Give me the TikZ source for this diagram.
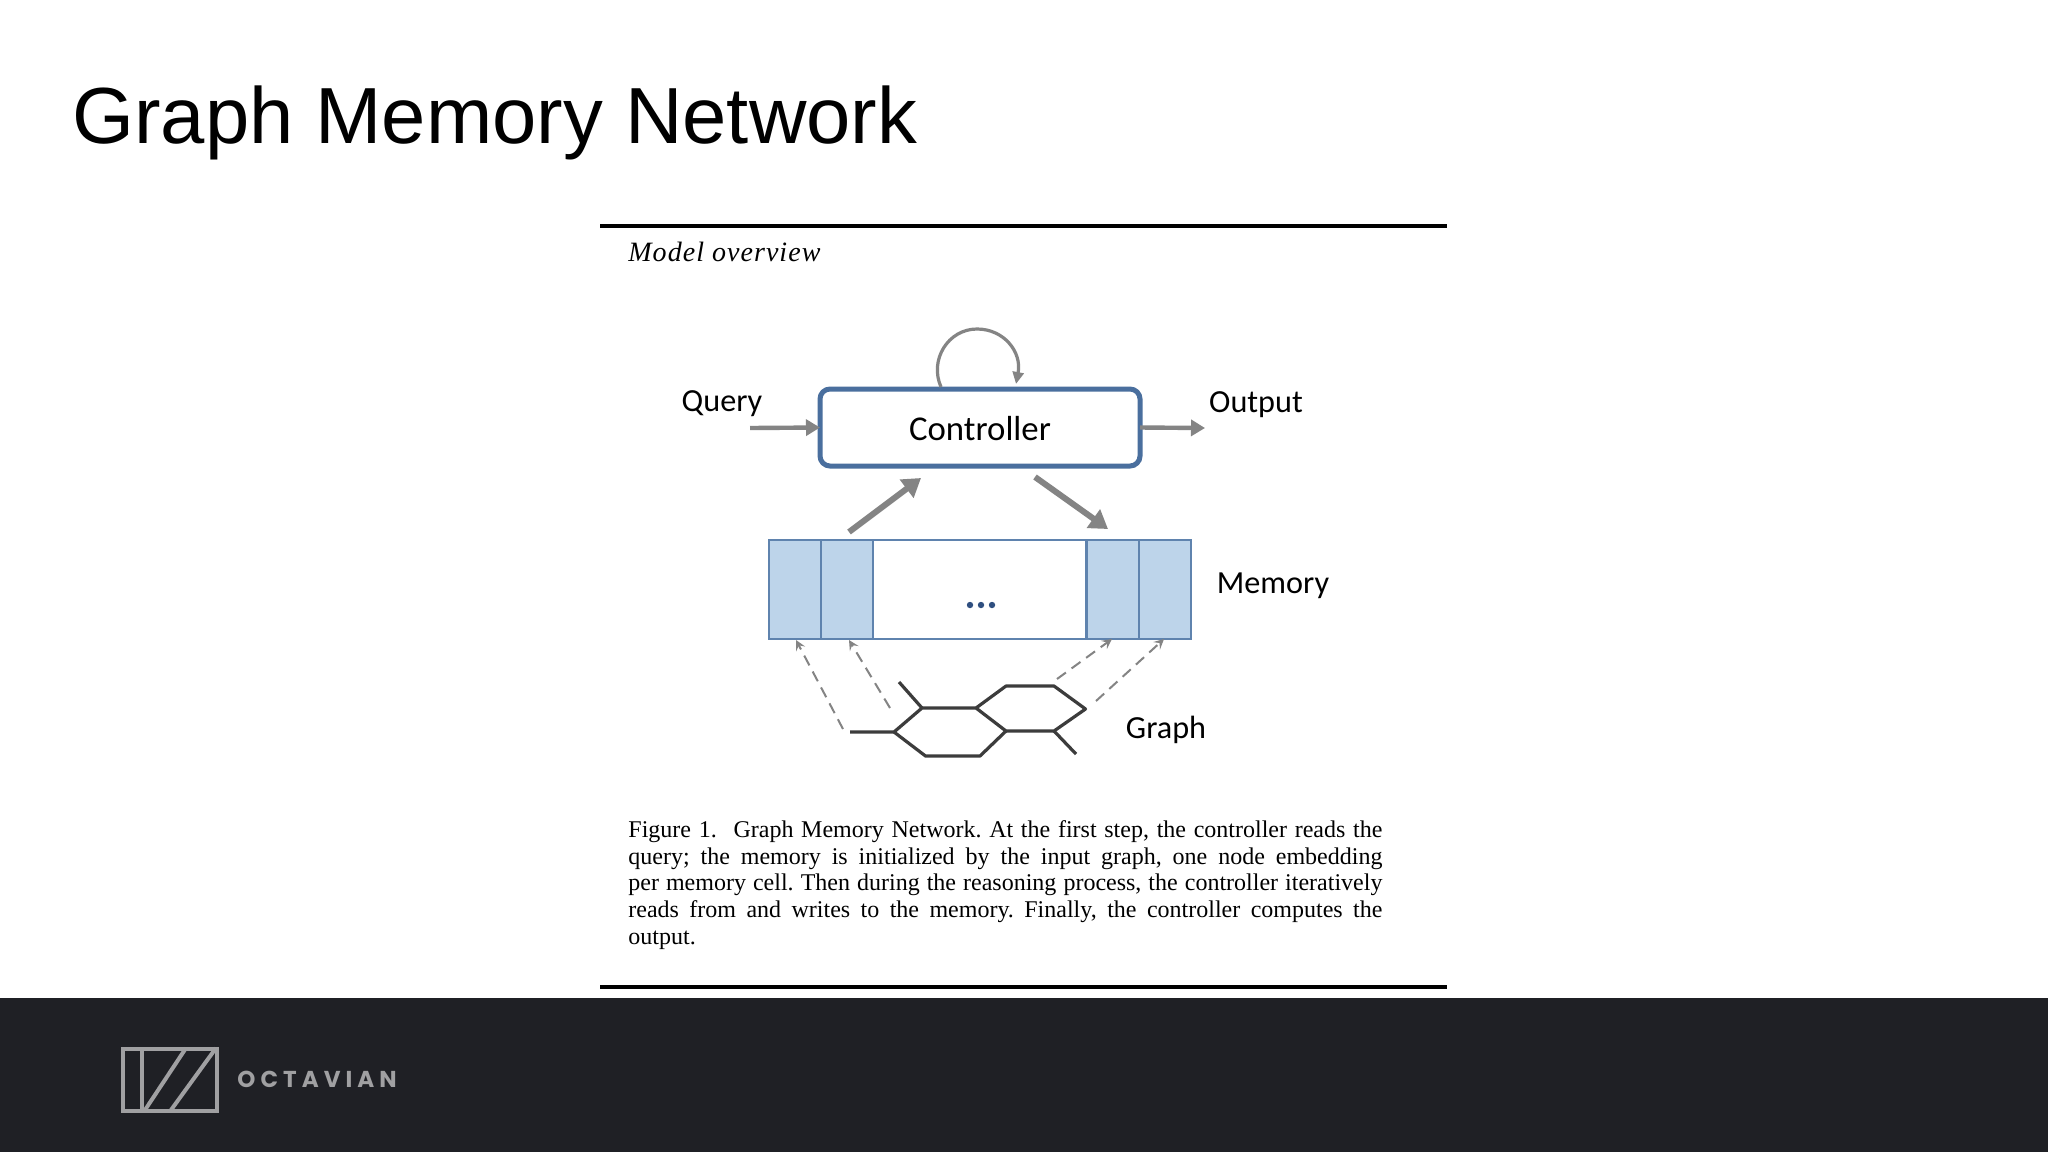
\documentclass[tikz,border=0pt]{standalone}
\usepackage{fontspec}
\setmainfont{Liberation Serif}
\newfontfamily\titlefont{Liberation Sans}
\newfontfamily\figfont{Carlito}
\newfontfamily\logofont[LetterSpace=22]{Poppins}
\newfontfamily\overviewfont[LetterSpace=3.7]{Liberation Serif}
\usetikzlibrary{arrows.meta}
\definecolor{footerbg}{HTML}{1F2025}
\definecolor{logogray}{HTML}{A0A0A2}
\definecolor{ctrlblue}{HTML}{4A6F9E}
\definecolor{cellblue}{HTML}{BDD4EA}
\definecolor{celledge}{HTML}{5F83AE}
\definecolor{dotblue}{HTML}{2F4F80}
\definecolor{arrowgray}{HTML}{848484}
\definecolor{bondgray}{HTML}{3C3C3C}
\tikzset{
  figlabel/.style={font=\figfont\fontsize{16.1pt}{20pt}\selectfont, text=black, inner sep=0pt},
  ctrltext/.style={font=\figfont\fontsize{17.4pt}{20pt}\selectfont, text=black, inner sep=0pt},
  ctrlbox/.style={draw=ctrlblue, line width=2.5pt, rounded corners=5pt, fill=white, minimum width=160pt, minimum height=38.5pt, inner sep=0pt, outer sep=0pt},
  cell/.style={draw=celledge, line width=1pt, fill=cellblue, minimum height=49.5pt, minimum width=26pt, inner sep=0pt, outer sep=0pt},
  midcell/.style={draw=celledge, line width=1pt, fill=white, minimum height=49.5pt, minimum width=106.5pt, inner sep=0pt, outer sep=0pt},
  flow/.style={draw=arrowgray, line width=2.2pt, -{Triangle[length=7pt,width=8pt]}},
  flowbig/.style={draw=arrowgray, line width=3pt, -{Triangle[length=9pt,width=11pt]}},
  loopline/.style={draw=arrowgray, line width=1.6pt, -{Triangle[length=6pt,width=5.5pt]}},
  embed/.style={draw=arrowgray, line width=1pt, dash pattern=on 5.5pt off 3.5pt, -{Stealth[length=5pt,width=5pt,inset=2pt]}},
  bond/.style={draw=bondgray, line width=1.6pt, line join=round},
  rulebar/.style={draw=black, line width=2pt},
  logoline/.style={draw=logogray, line width=2pt},
}
\begin{document}
\begin{tikzpicture}[x=0.5pt,y=-0.5pt]
\useasboundingbox (0,0) rectangle (2048,1152);
\fill[white] (0,0) rectangle (2048,1152);
\fill[footerbg] (0,997.5) rectangle (2048,1152);

\node[anchor=base west, inner sep=0pt, font=\titlefont\fontsize{39.8pt}{44pt}\selectfont] (title) at (72,143.5) {Graph Memory Network};

\coordinate (ruleTopL) at (600,225.5); \coordinate (ruleTopR) at (1447,225.5);
\coordinate (ruleBotL) at (600,986.5); \coordinate (ruleBotR) at (1447,986.5);
\draw[rulebar] (ruleTopL) -- (ruleTopR);
\draw[rulebar] (ruleBotL) -- (ruleBotR);

\node[anchor=base west, inner sep=0pt, font=\overviewfont\itshape\fontsize{14pt}{17pt}\selectfont] (overview) at (628,261.5) {Model overview};

% controller and its labels
\node[ctrlbox] (controller) at (980,427.5) {};
\node[ctrltext] (controllerText) at (980,429) {Controller};
\node[figlabel] (query) at (722,404) {Query};
\node[figlabel] (output) at (1256,405) {Output};
\coordinate (queryStart) at (750,428);
\coordinate (outputEnd) at (1205,428);
\draw[flow] (queryStart) -- (controller.west);
\draw[flow] (controller.east) -- (outputEnd);

% self loop
\coordinate (loopStart) at (941,387);
\coordinate (loopTop) at (977,329);
\coordinate (loopEnd) at (1016,384);
\draw[loopline] (loopStart) .. controls (929,360) and (948,329) .. (loopTop)
  .. controls (1004,329) and (1022,352) .. (loopEnd);

% memory
\node[cell] (cellA) at (794.5,589.5) {};
\node[cell] (cellB) at (846.5,589.5) {};
\node[midcell] (cellMid) at (979.5,589.5) {};
\node[cell] (cellC) at (1112.5,589.5) {};
\node[cell] (cellD) at (1164.5,589.5) {};
\foreach \dx in {-11,0,11} \fill[dotblue] (981+\dx,605) circle (3.2);
\node[figlabel] (memory) at (1273,586) {Memory};

% read and write
\coordinate (readStart) at (849,532); \coordinate (readEnd) at (921,478);
\coordinate (writeStart) at (1035,477); \coordinate (writeEnd) at (1108,529);
\draw[flowbig] (readStart) -- (readEnd);
\draw[flowbig] (writeStart) -- (writeEnd);

% graph
\coordinate (g1) at (850,732);
\coordinate (g2) at (894,732);
\coordinate (g3) at (922,708);
\coordinate (g4) at (976,708);
\coordinate (g5) at (1006,686);
\coordinate (g6) at (1054,686);
\coordinate (g7) at (1085.5,709);
\coordinate (g8) at (1054,731);
\coordinate (g9) at (1006,731);
\coordinate (g10) at (980,756);
\coordinate (g11) at (925.5,756);
\coordinate (g12) at (899,682);
\coordinate (g13) at (1076,754);
\draw[bond] (g1) -- (g2) -- (g3) -- (g4) -- (g5) -- (g6) -- (g7) -- (g8) -- (g9) -- (g4);
\draw[bond] (g9) -- (g10) -- (g11) -- (g2);
\draw[bond] (g3) -- (g12);
\draw[bond] (g8) -- (g13);
\node[figlabel] (graph) at (1166,730) {Graph};

% embedding arrows
\coordinate (ea) at (843,729); \coordinate (eaEnd) at (796,640);
\coordinate (eb) at (890,708); \coordinate (ebEnd) at (849,640);
\coordinate (ec) at (1057,679); \coordinate (ecEnd) at (1112,639);
\coordinate (ed) at (1096,701); \coordinate (edEnd) at (1164,639);
\draw[embed] (ea) -- (eaEnd);
\draw[embed] (eb) -- (ebEnd);
\draw[embed] (ec) -- (ecEnd);
\draw[embed] (ed) -- (edEnd);

% caption
\node[anchor=north west, inner sep=0pt, text width=377pt, align=justify, font=\frenchspacing\fontsize{12pt}{13.4pt}\selectfont] (caption) at (628,820) {Figure 1.\hspace{0.7em}Graph Memory Network. At the first step, the controller reads the\linebreak query; the memory is initialized by the input graph, one node embedding\linebreak per memory cell. Then during the reasoning process, the controller iteratively\linebreak reads from and writes to the memory. Finally, the controller computes the\linebreak output.};

% logo
\node[draw=logogray, line width=2pt, minimum width=47pt, minimum height=31pt, inner sep=0pt, outer sep=0pt] (logoBox) at (169.5,1079.5) {};
\coordinate (lt1) at (142,1048); \coordinate (lb1) at (142,1111);
\coordinate (dt1) at (186,1048); \coordinate (db1) at (145,1110);
\coordinate (dt2) at (216,1048); \coordinate (db2) at (171,1110);
\draw[logoline] (lt1) -- (lb1);
\draw[logoline] (dt1) -- (db1);
\draw[logoline] (dt2) -- (db2);
\node[anchor=west, inner sep=0pt, text=logogray, font=\logofont\bfseries\fontsize{11.5pt}{14pt}\selectfont] (logoText) at (237,1079) {OCTAVIAN};
\end{tikzpicture}
\end{document}
